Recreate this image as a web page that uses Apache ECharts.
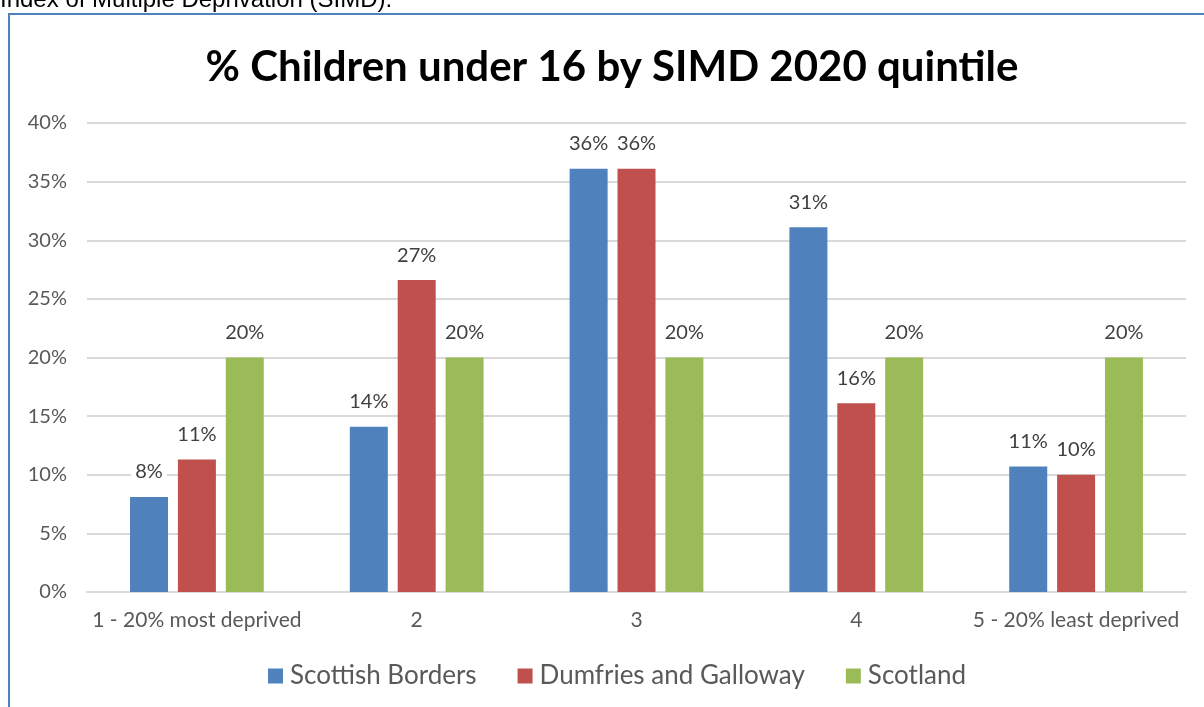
<!DOCTYPE html>
<html>
<head>
<meta charset="utf-8">
<script src="https://cdn.jsdelivr.net/npm/echarts@6/dist/echarts.min.js"></script>
<style>html,body{margin:0;padding:0;background:#fff;}#c{width:1204px;height:707px;}</style>
</head>
<body>
<div id="c"></div>
<script>
const categories = ['1 - 20% most deprived', '2', '3', '4', '5 - 20% least deprived'];
const seriesNames = ['Scottish Borders', 'Dumfries and Galloway', 'Scotland'];
const scottishBorders = [8.1, 14.1, 36.1, 31.1, 10.7];
const dumfriesGalloway = [11.3, 26.6, 36.1, 16.1, 10.0];
const scotland = [20.0, 20.0, 20.0, 20.0, 20.0];
const colors = ['#4f81bd', '#c0504d', '#9bbb59'];
const yTicks = [0, 5, 10, 15, 20, 25, 30, 35, 40];

const font = 'Lato, "Open Sans", sans-serif';
const chart = echarts.init(document.getElementById('c'), null, {renderer: 'canvas'});
const mk = (name, data, color) => ({
  name, type: 'bar', data, barWidth: 38, barGap: '26%',
  itemStyle: {color},
  label: {
    show: true, position: 'top', distance: 12,
    formatter: p => Math.round(p.value) + '%',
    color: '#404040', fontSize: 20, fontFamily: font,
    backgroundColor: '#ffffff', padding: [3, 4]
  }
});
chart.setOption({
  animation: false,
  backgroundColor: '#ffffff',
  color: colors,
  graphic: [
    {type: 'text', left: 0, top: -12, style: {text: 'Index of Multiple Deprivation (SIMD).', font: '24px "Liberation Sans", Arial, sans-serif', fill: '#000'}},
    {type: 'rect', shape: {x: 9, y: 14, width: 1300, height: 800}, style: {fill: 'none', stroke: '#4f81bd', lineWidth: 2}, z: 10},
    {type: 'text', x: 612, y: 67, style: {text: '% Children under 16 by SIMD 2020 quintile', font: 'bold 42px ' + font, fill: '#000', align: 'center', verticalAlign: 'middle'}}
  ],
  grid: {left: 87, right: 18, top: 123, bottom: 115, containLabel: false},
  legend: {
    data: seriesNames, left: 268, top: 663, padding: 0, icon: 'rect', itemWidth: 15, itemHeight: 15, itemGap: 41,
    textStyle: {fontSize: 26, color: '#595959', fontFamily: font, padding: [0, 0, 0, 2]}
  },
  xAxis: {
    type: 'category', data: categories,
    axisLine: {lineStyle: {color: '#d9d9d9', width: 2}},
    axisTick: {show: false},
    axisLabel: {color: '#595959', fontSize: 21, fontFamily: font, margin: 18, interval: 0}
  },
  yAxis: {
    type: 'value', min: 0, max: 40, interval: 5,
    axisLine: {show: false}, axisTick: {show: false},
    splitLine: {lineStyle: {color: '#d9d9d9', width: 2}},
    axisLabel: {color: '#595959', fontSize: 20, fontFamily: font, margin: 20, formatter: v => yTicks.includes(v) ? v + '%' : ''}
  },
  series: [
    mk(seriesNames[0], scottishBorders, colors[0]),
    mk(seriesNames[1], dumfriesGalloway, colors[1]),
    mk(seriesNames[2], scotland, colors[2])
  ]
});
</script>
</body>
</html>
